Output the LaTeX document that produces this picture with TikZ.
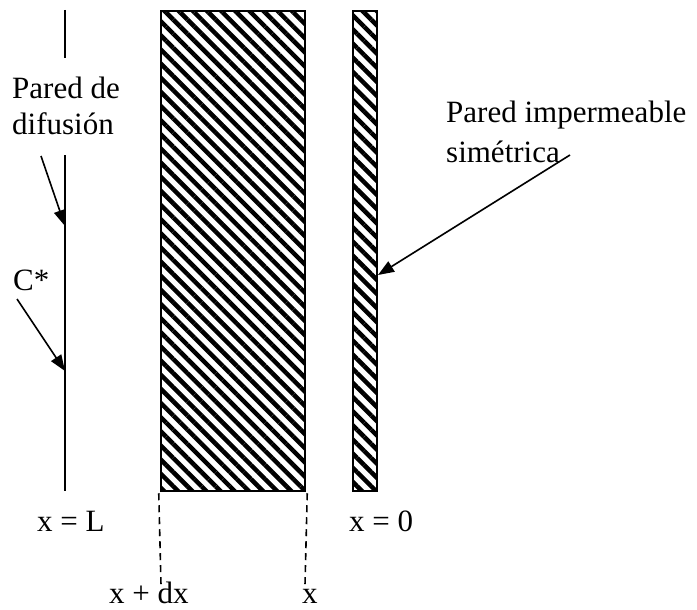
\documentclass[tikz,border=0pt]{standalone}
\usepackage{fontspec}
\setmainfont{Liberation Serif}
\usetikzlibrary{arrows.meta,patterns.meta}

\begin{document}
\begin{tikzpicture}[x=1pt,y=-1pt,
lbl/.style={inner sep=0pt,anchor=base west,font=\fontsize{31}{37}\selectfont},
wall/.style={draw,line width=2pt,inner sep=0pt,
pattern={Lines[angle=-45,distance=10pt,line width=4.5pt]}},
ptr/.style={line width=1.6pt,-{Triangle[length=16pt,width=12pt]}}]
\useasboundingbox (0,0) rectangle (697,610);

\node[wall,minimum width=144pt,minimum height=480pt] (slab) at (233,251) {};
\node[wall,minimum width=24pt,minimum height=480pt] (sym) at (365,251) {};

\coordinate (wtop) at (65,10);
\coordinate (wgap1) at (65,58);
\coordinate (wgap2) at (65,155);
\coordinate (wbot) at (65,491);
\draw[line width=2pt] (wtop) -- (wgap1) (wgap2) -- (wbot);

\node[lbl] (pd1) at (12,99) {Pared de};
\node[lbl] (pd2) at (12,135) {difusión};
\node[lbl] (cstar) at (13,290) {C*};
\node[lbl] (pi1) at (446,123) {Pared impermeable};
\node[lbl] (pi2) at (446,162) {simétrica};
\node[lbl] (xl) at (37,531) {x = L};
\node[lbl] (x0) at (349,531) {x = 0};
\node[lbl] (xdx) at (109,603) {x + dx};
\node[lbl] (xx) at (302,603) {x};

\coordinate (d1) at (41,156);
\coordinate (d2) at (65,226);
\coordinate (c1) at (17,299);
\coordinate (c2) at (65,371);
\coordinate (s1) at (570,155);
\coordinate (s2) at (378,275);
\draw[ptr] (d1) -- (d2);
\draw[ptr] (c1) -- (c2);
\draw[ptr] (s1) -- (s2);

\coordinate (e1) at (161,585);
\coordinate (e2) at (305,585);
\draw[dashed,dash pattern=on 7pt off 5pt,line width=1.6pt] (slab.south west) -- (e1) (slab.south east) -- (e2);
\end{tikzpicture}
\end{document}
